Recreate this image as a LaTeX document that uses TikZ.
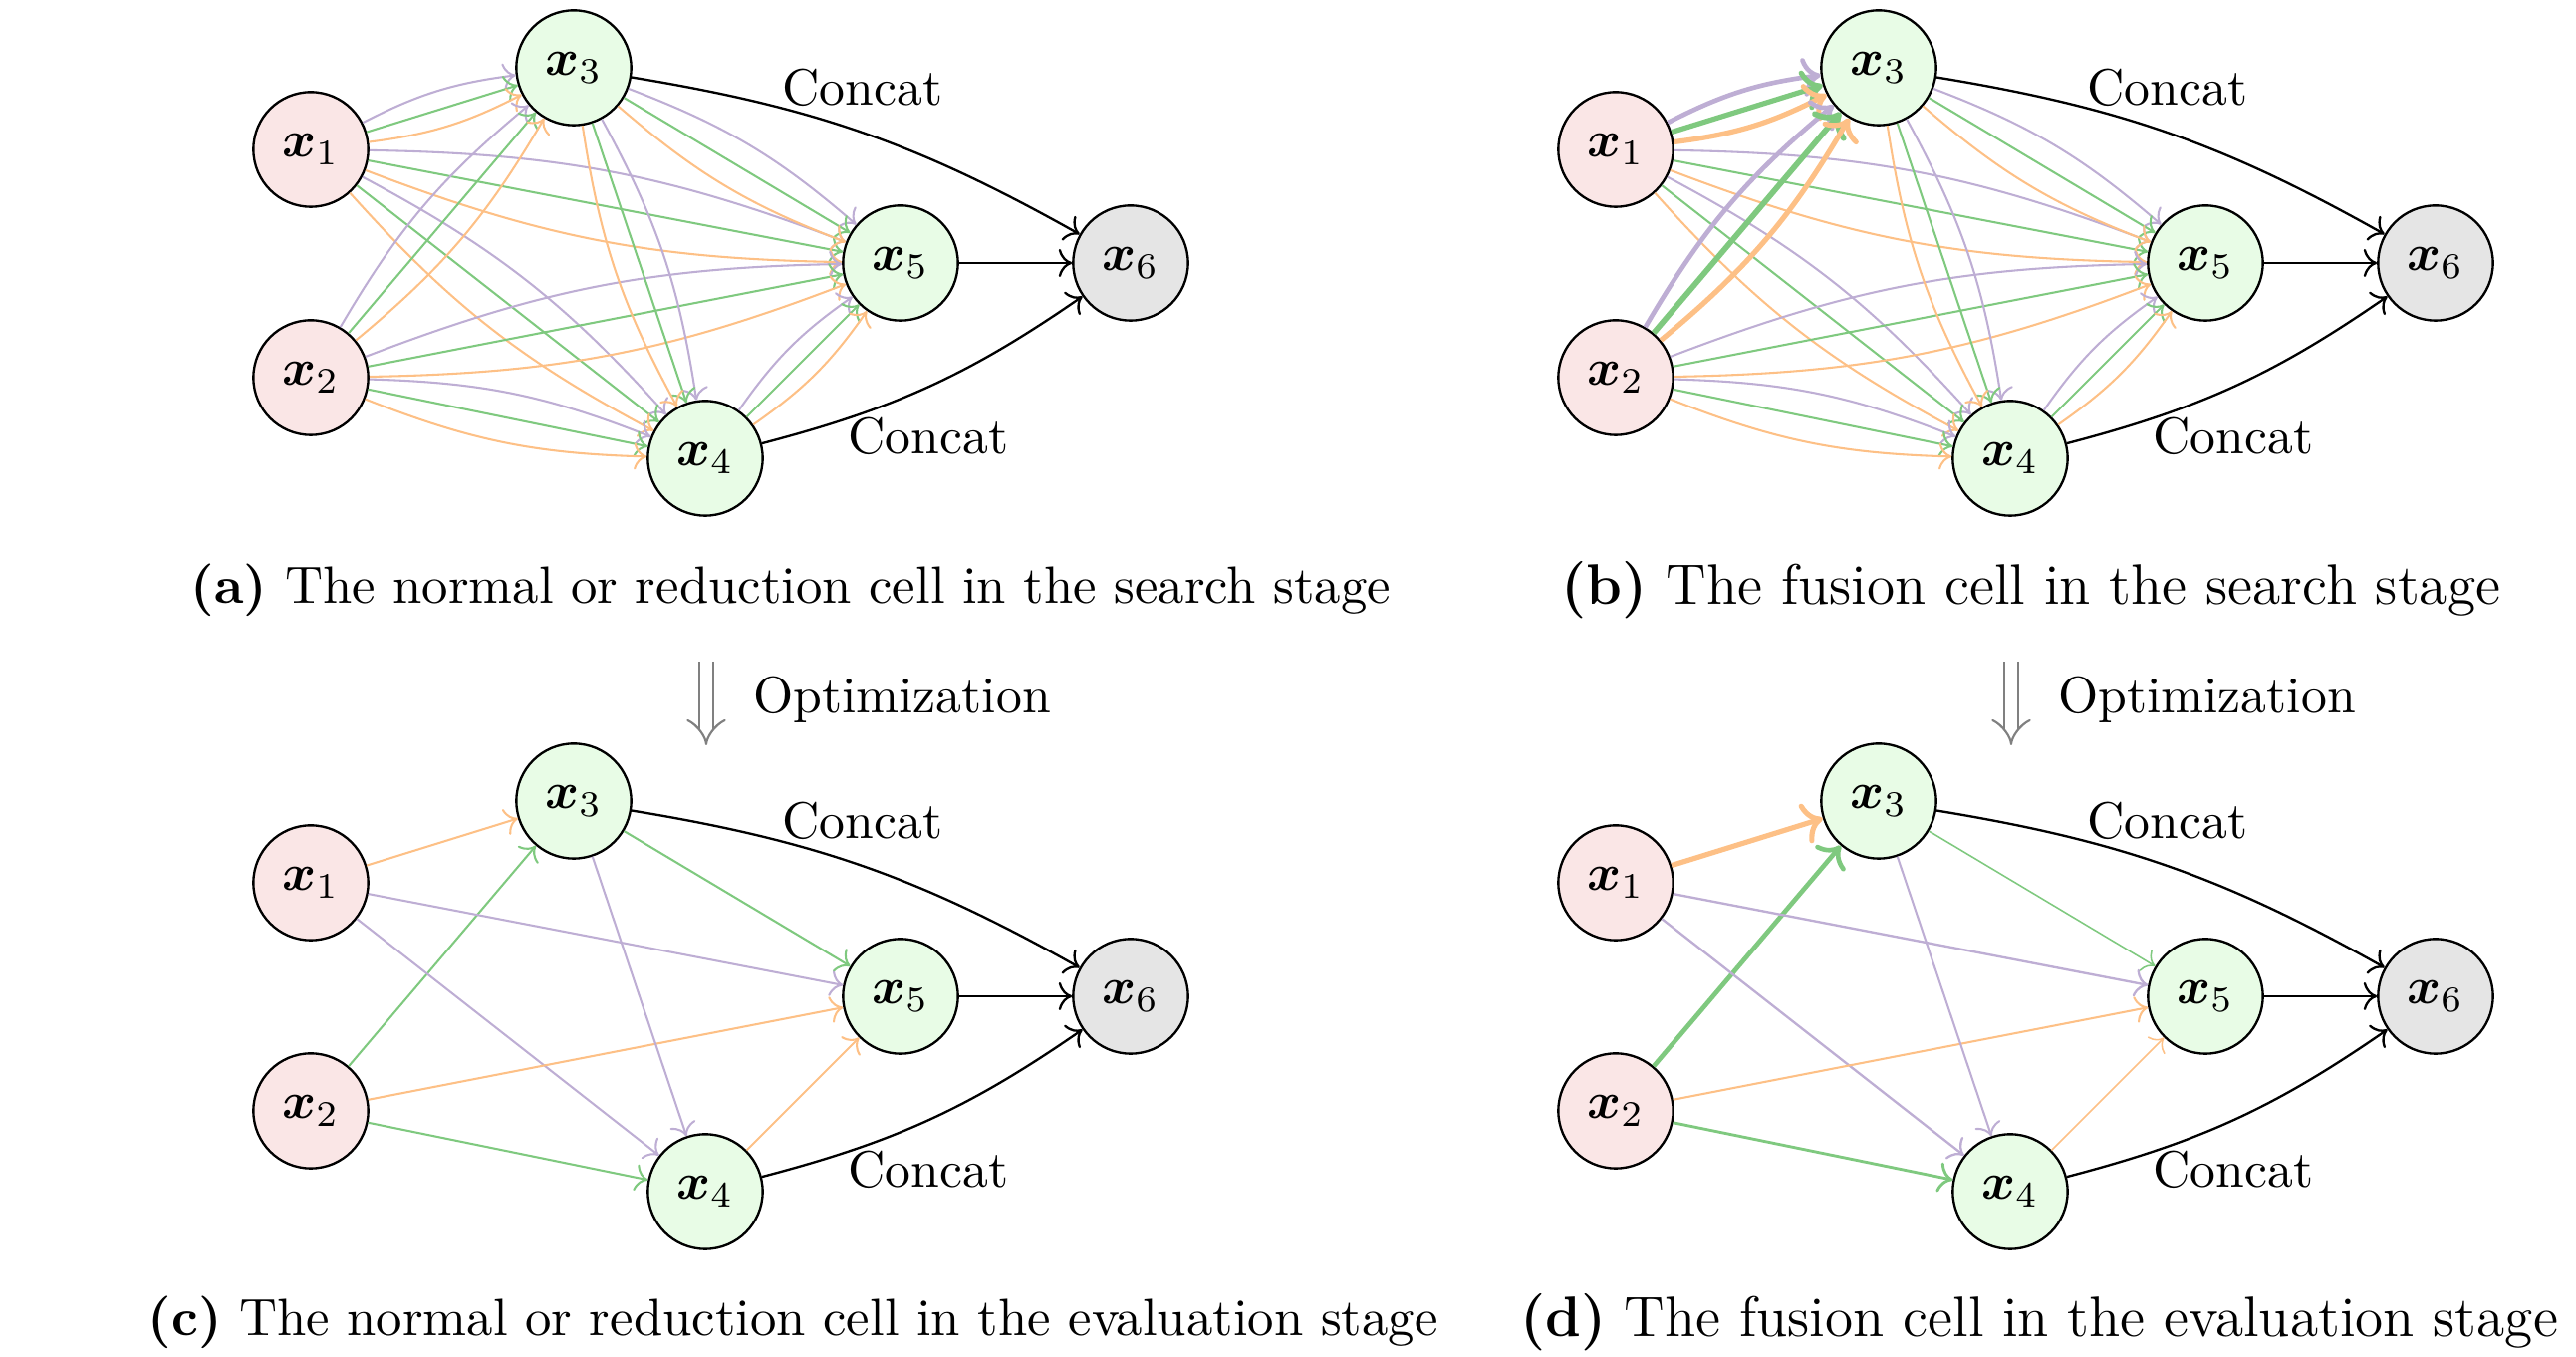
\documentclass[tikz,border=0pt]{standalone}
\usepackage{amsmath}
\usetikzlibrary{arrows.meta}
\definecolor{accg}{HTML}{7FC97F}
\definecolor{accp}{HTML}{BEAED4}
\definecolor{acco}{HTML}{FDC086}
\definecolor{fillin}{RGB}{250,230,230}
\definecolor{fillmid}{RGB}{232,252,230}
\definecolor{fillout}{RGB}{229,229,229}
\begin{document}
\begin{tikzpicture}[x=0.19342pt, y=0.19342pt,
  cellnode/.style={circle, draw=black, line width=0.45pt, minimum size=22.3pt, inner sep=0pt},
  innode/.style={cellnode, fill=fillin},
  midnode/.style={cellnode, fill=fillmid},
  outnode/.style={cellnode, fill=fillout},
  edgep/.style={->, draw=accp, line width=0.4pt},
  edgeg/.style={->, draw=accg, line width=0.4pt},
  edgeo/.style={->, draw=acco, line width=0.4pt},
  edgek/.style={->, draw=black, line width=0.45pt},
  lblnode/.style={inner sep=1pt},
  capnode/.style={inner sep=1pt},
  capsmall/.style={capnode, font=\fontsize{10.2}{12.6}\selectfont},
  caplarge/.style={capnode, font=\fontsize{11.1}{13.6}\selectfont},
  optnode/.style={anchor=west, inner sep=0pt},
  optarrow/.style={draw=gray, line width=0.42pt, double=white, double distance=2.3pt, -{Implies}}
]
\useasboundingbox (0,0) rectangle (2586,-1362);

% nodes
\foreach \p/\dx/\dy in {a/0/0, b/1310/0, c/0/-736, d/1310/-736} {
  \begin{scope}[shift={(\dx,\dy)}]
    \node[innode]  (\p1) at (312,-150) {$\boldsymbol{x}_1$};
    \node[innode]  (\p2) at (312,-379) {$\boldsymbol{x}_2$};
    \node[midnode] (\p3) at (576,-68)  {$\boldsymbol{x}_3$};
    \node[midnode] (\p4) at (708,-460) {$\boldsymbol{x}_4$};
    \node[midnode] (\p5) at (904,-264) {$\boldsymbol{x}_5$};
    \node[outnode] (\p6) at (1135,-264) {$\boldsymbol{x}_6$};
    \node[lblnode] (\p7) at (866,-88) {Concat};
    \node[lblnode] (\p8) at (932,-438) {Concat};
  \end{scope}
  \draw[edgek, bend left=10] (\p3) to (\p6);
  \draw[edgek] (\p5) -- (\p6);
  \draw[edgek, bend right=10] (\p4) to (\p6);
}

% search stage: mixed operations
\foreach \s/\t in {1/3,1/4,1/5,2/3,2/4,2/5,3/4,3/5,4/5} {
  \draw[edgep, bend left=10] (a\s) to (a\t);
  \draw[edgeg] (a\s) -- (a\t);
  \draw[edgeo, bend right=10] (a\s) to (a\t);
}
\foreach \s/\t in {1/4,1/5,2/4,2/5,3/4,3/5,4/5} {
  \draw[edgep, bend left=10] (b\s) to (b\t);
  \draw[edgeg] (b\s) -- (b\t);
  \draw[edgeo, bend right=10] (b\s) to (b\t);
}
\foreach \s/\wp/\wg/\wo in {1/0.9pt/1.0pt/1.0pt, 2/0.9pt/1.1pt/1.0pt} {
  \draw[edgep, line width=\wp, bend left=10] (b\s) to (b3);
  \draw[edgeg, line width=\wg] (b\s) -- (b3);
  \draw[edgeo, line width=\wo, bend right=10] (b\s) to (b3);
}

% evaluation stage: selected operations
\foreach \s/\t/\c in {1/3/acco,2/3/accg,1/5/accp,1/4/accp,2/5/acco,2/4/accg,3/4/accp,3/5/accg,4/5/acco} {
  \draw[->, draw=\c, line width=0.4pt] (c\s) -- (c\t);
}
\foreach \s/\t/\c/\w in {1/3/acco/1.0pt,2/3/accg/0.9pt,1/5/accp/0.45pt,1/4/accp/0.45pt,2/5/acco/0.4pt,2/4/accg/0.55pt,3/4/accp/0.4pt,3/5/accg/0.3pt,4/5/acco/0.3pt} {
  \draw[->, draw=\c, line width=\w] (d\s) -- (d\t);
}

% captions
\node[capsmall] (capa) at (794,-592) {\textbf{(a)} The normal or reduction cell in the search stage};
\node[caplarge] (capb) at (2039,-592) {\textbf{(b)} The fusion cell in the search stage};
\node[capsmall] (capc) at (796,-1327) {\textbf{(c)} The normal or reduction cell in the evaluation stage};
\node[caplarge] (capd) at (2047,-1327) {\textbf{(d)} The fusion cell in the evaluation stage};

% optimization arrows
\coordinate (oat) at (709,-664);
\coordinate (oab) at (709,-748);
\coordinate (obt) at (2019,-664);
\coordinate (obb) at (2019,-748);
\draw[optarrow] (oat) -- (oab);
\draw[optarrow] (obt) -- (obb);
\node[optnode] (opta) at (755,-702) {Optimization};
\node[optnode] (optb) at (2065,-702) {Optimization};
\end{tikzpicture}
\end{document}
